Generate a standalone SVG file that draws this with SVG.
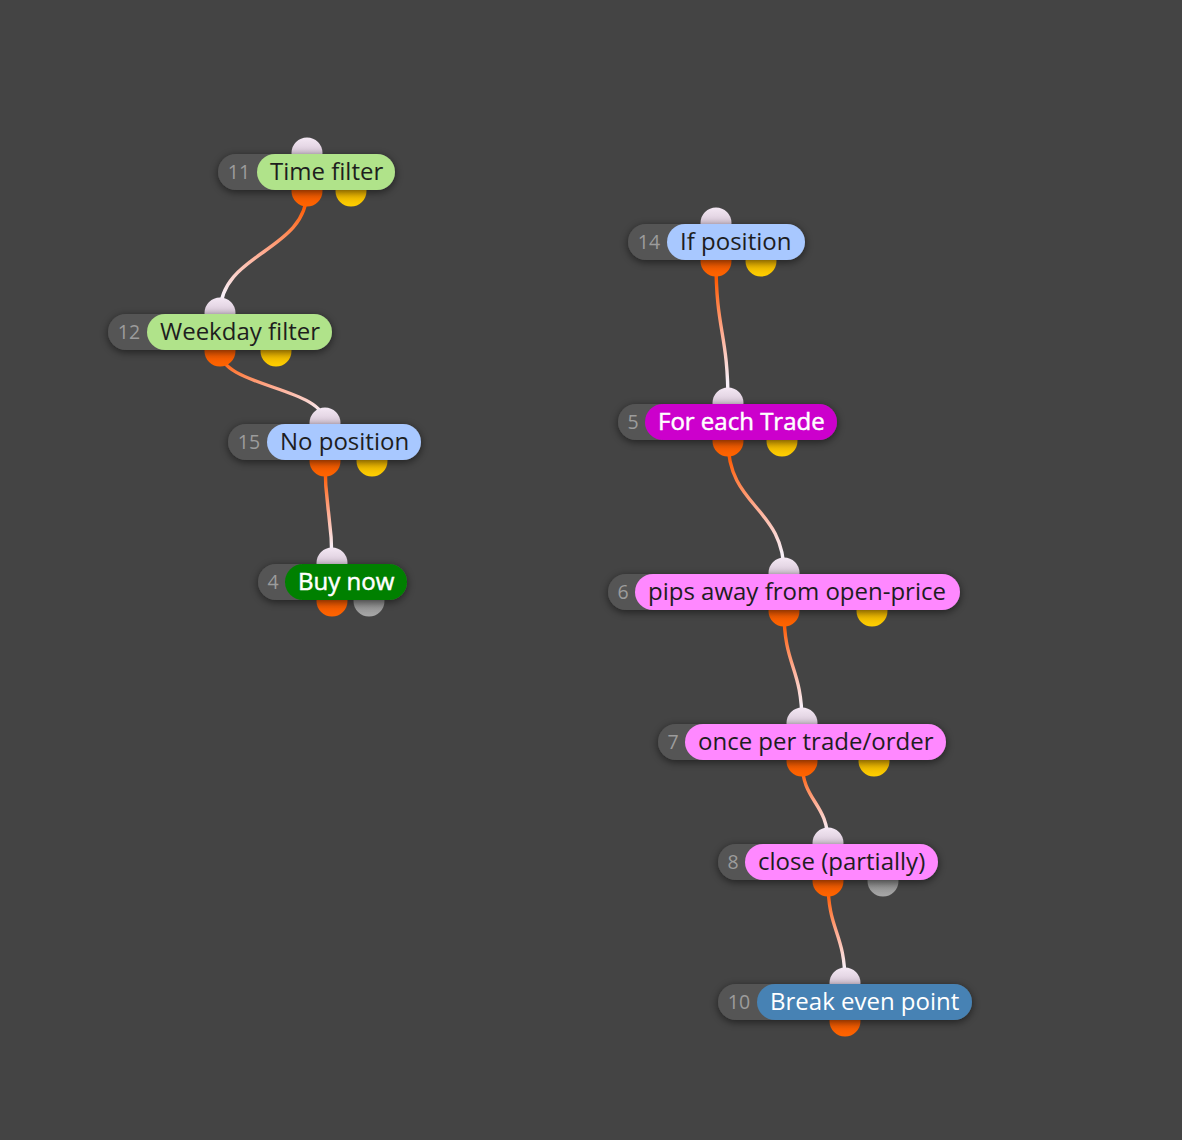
<svg xmlns="http://www.w3.org/2000/svg" width="1182" height="1140" viewBox="0 0 1182 1140">
<defs>
<filter id="sh" x="-20%" y="-50%" width="140%" height="200%"><feDropShadow dx="0" dy="2" stdDeviation="4" flood-color="#000" flood-opacity="0.55"/></filter>
<linearGradient id="gIn" x1="0" y1="0" x2="0" y2="1"><stop offset="0" stop-color="#f4e8f4"/><stop offset="0.55" stop-color="#d8c8d8"/><stop offset="1" stop-color="#7a6a7a"/></linearGradient>
<linearGradient id="gOut" x1="0" y1="0" x2="0" y2="1"><stop offset="0" stop-color="#b83c00"/><stop offset="0.5" stop-color="#f05800"/><stop offset="1" stop-color="#ff6400"/></linearGradient>
<linearGradient id="gYel" x1="0" y1="0" x2="0" y2="1"><stop offset="0" stop-color="#b08400"/><stop offset="0.5" stop-color="#e8b000"/><stop offset="1" stop-color="#ffd000"/></linearGradient>
<linearGradient id="gGry" x1="0" y1="0" x2="0" y2="1"><stop offset="0" stop-color="#666"/><stop offset="0.5" stop-color="#8a8a8a"/><stop offset="1" stop-color="#a8a8a8"/></linearGradient>
<linearGradient id="gWire" x1="0" y1="0" x2="0" y2="1"><stop offset="0.12" stop-color="#ff5a00"/><stop offset="0.5" stop-color="#ffab90"/><stop offset="0.85" stop-color="#f8f0f8"/></linearGradient>
</defs>
<style>
.bg{fill:#444444}
.num{fill:#555555}
.nt{font-family:"Open Sans","Noto Sans",sans-serif;font-size:19.5px;fill:#9c9c9c}
.lt{font-family:"Open Sans","Noto Sans",sans-serif;font-size:24px;fill:#1e1e1e}
.lw{fill:#ffffff}
.in{fill:url(#gIn)}
.out{fill:url(#gOut)}
.yel{fill:url(#gYel)}
.gry{fill:url(#gGry)}
.wire{fill:none;stroke:url(#gWire);stroke-width:3.4;stroke-linecap:round}
.node{filter:url(#sh)}
</style>
<rect class="bg" x="0" y="0" width="1182" height="1140"/>
<g id="connectors">
<path class="wire" d="M307 191 C307 252,220 252,220 313"/>
<path class="wire" d="M220 351 C220 387,325 387,325 423"/>
<path class="wire" d="M325 461 C325 512,332 512,332 563"/>
<path class="wire" d="M716 261 C716 332,728 332,728 403"/>
<path class="wire" d="M728 441 C728 507,784 507,784 573"/>
<path class="wire" d="M784 611 C784 667,802 667,802 723"/>
<path class="wire" d="M802 761 C802 802,828 802,828 843"/>
<path class="wire" d="M828 881 C828 932,845 932,845 983"/>
</g>
<g id="node11">
<circle class="in" cx="307" cy="153" r="15.5"/><circle class="out" cx="307" cy="191" r="15.5"/><circle class="yel" cx="351" cy="191" r="15.5"/>
<g class="node"><rect class="num" x="218" y="154" width="177" height="36" rx="18"/><rect fill="#b0e38a" x="257" y="154" width="138" height="36" rx="18"/></g>
<text class="nt" x="239" y="179" text-anchor="middle">11</text><text class="lt" x="270" y="180">Time filter</text>
</g>
<g id="node12">
<circle class="in" cx="220" cy="313" r="15.5"/><circle class="out" cx="220" cy="351" r="15.5"/><circle class="yel" cx="276" cy="351" r="15.5"/>
<g class="node"><rect class="num" x="108" y="314" width="224" height="36" rx="18"/><rect fill="#b0e38a" x="147" y="314" width="185" height="36" rx="18"/></g>
<text class="nt" x="129" y="339" text-anchor="middle">12</text><text class="lt" x="160" y="340">Weekday filter</text>
</g>
<g id="node15">
<circle class="in" cx="325" cy="423" r="15.5"/><circle class="out" cx="325" cy="461" r="15.5"/><circle class="yel" cx="372" cy="461" r="15.5"/>
<g class="node"><rect class="num" x="228" y="424" width="193" height="36" rx="18"/><rect fill="#a8c8ff" x="267" y="424" width="154" height="36" rx="18"/></g>
<text class="nt" x="249" y="449" text-anchor="middle">15</text><text class="lt" x="280" y="450">No position</text>
</g>
<g id="node4">
<circle class="in" cx="332" cy="563" r="15.5"/><circle class="out" cx="332" cy="601" r="15.5"/><circle class="gry" cx="369" cy="601" r="15.5"/>
<g class="node"><rect class="num" x="258" y="564" width="149" height="36" rx="18"/><rect fill="#008000" x="285" y="564" width="122" height="36" rx="18"/></g>
<text class="nt" x="273" y="589" text-anchor="middle">4</text><text class="lt lw" x="298" y="590" style="stroke:#ffffff;stroke-width:0.5">Buy now</text>
</g>
<g id="node14">
<circle class="in" cx="716" cy="223" r="15.5"/><circle class="out" cx="716" cy="261" r="15.5"/><circle class="yel" cx="761" cy="261" r="15.5"/>
<g class="node"><rect class="num" x="628" y="224" width="177" height="36" rx="18"/><rect fill="#a8c8ff" x="667" y="224" width="138" height="36" rx="18"/></g>
<text class="nt" x="649" y="249" text-anchor="middle">14</text><text class="lt" x="680" y="250">If position</text>
</g>
<g id="node5">
<circle class="in" cx="728" cy="403" r="15.5"/><circle class="out" cx="728" cy="441" r="15.5"/><circle class="yel" cx="782" cy="441" r="15.5"/>
<g class="node"><rect class="num" x="618" y="404" width="219" height="36" rx="18"/><rect fill="#cc00cc" x="645" y="404" width="192" height="36" rx="18"/></g>
<text class="nt" x="633" y="429" text-anchor="middle">5</text><text class="lt lw" x="658" y="430" style="stroke:#ffffff;stroke-width:0.5">For each Trade</text>
</g>
<g id="node6">
<circle class="in" cx="784" cy="573" r="15.5"/><circle class="out" cx="784" cy="611" r="15.5"/><circle class="yel" cx="872" cy="611" r="15.5"/>
<g class="node"><rect class="num" x="608" y="574" width="352" height="36" rx="18"/><rect fill="#ff88ff" x="635" y="574" width="325" height="36" rx="18"/></g>
<text class="nt" x="623" y="599" text-anchor="middle">6</text><text class="lt" x="648" y="600">pips away from open-price</text>
</g>
<g id="node7">
<circle class="in" cx="802" cy="723" r="15.5"/><circle class="out" cx="802" cy="761" r="15.5"/><circle class="yel" cx="874" cy="761" r="15.5"/>
<g class="node"><rect class="num" x="658" y="724" width="288" height="36" rx="18"/><rect fill="#ff88ff" x="685" y="724" width="261" height="36" rx="18"/></g>
<text class="nt" x="673" y="749" text-anchor="middle">7</text><text class="lt" x="698" y="750">once per trade/order</text>
</g>
<g id="node8">
<circle class="in" cx="828" cy="843" r="15.5"/><circle class="out" cx="828" cy="881" r="15.5"/><circle class="gry" cx="883" cy="881" r="15.5"/>
<g class="node"><rect class="num" x="718" y="844" width="220" height="36" rx="18"/><rect fill="#ff88ff" x="745" y="844" width="193" height="36" rx="18"/></g>
<text class="nt" x="733" y="869" text-anchor="middle">8</text><text class="lt" x="758" y="870">close (partially)</text>
</g>
<g id="node10">
<circle class="in" cx="845" cy="983" r="15.5"/><circle class="out" cx="845" cy="1021" r="15.5"/>
<g class="node"><rect class="num" x="718" y="984" width="254" height="36" rx="18"/><rect fill="#4682b4" x="757" y="984" width="215" height="36" rx="18"/></g>
<text class="nt" x="739" y="1009" text-anchor="middle">10</text><text class="lt lw" x="770" y="1010">Break even point</text>
</g>
</svg>
